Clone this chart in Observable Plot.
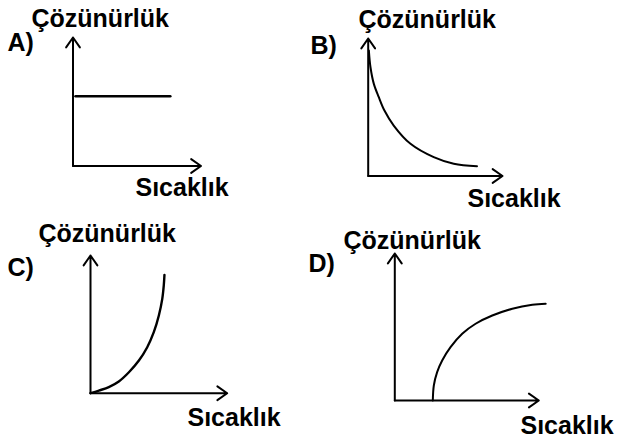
<!DOCTYPE html>
<html>
<head>
<meta charset="utf-8">
<script src="https://cdn.jsdelivr.net/npm/d3@7"></script>
<script src="https://cdn.jsdelivr.net/npm/@observablehq/plot@0.6"></script>
<style>
  html, body { margin: 0; padding: 0; background: #fff; }
  #root { position: relative; width: 619px; height: 445px; overflow: hidden; }
  #root > div { position: absolute; }
</style>
</head>
<body>
<div id="root"></div>
<script>
// ---- data (axis units: 0..1 along each drawn axis) ----
const panelLetters = ["A)", "B)", "C)", "D)"];
const yAxisTitle = "Çözünürlük";
const xAxisTitle = "Sıcaklık";

const curveA_x = [0.02, 0.76];
const curveA_y = [0.543, 0.543];

const curveB_x = [0.005, 0.017, 0.042, 0.079, 0.121, 0.19, 0.315, 0.488, 0.637, 0.81];
const curveB_y = [0.913, 0.791, 0.67, 0.573, 0.476, 0.367, 0.234, 0.137, 0.089, 0.071];

const curveC_x = [0, 0.061, 0.134, 0.207, 0.281, 0.354, 0.415, 0.463, 0.5, 0.525, 0.536, 0.541];
const curveC_y = [0, 0.019, 0.044, 0.085, 0.152, 0.237, 0.334, 0.443, 0.564, 0.685, 0.782, 0.859];

const curveD_x = [0.264, 0.271, 0.294, 0.329, 0.387, 0.468, 0.561, 0.677, 0.816, 0.955, 1.048];
const curveD_y = [0, 0.102, 0.193, 0.272, 0.363, 0.454, 0.522, 0.578, 0.624, 0.651, 0.658];

// ---- layout (page pixels) ----
const layout = [
  {box: [0, 0, 300, 210],   origin: [72.5, 165.5], size: [128, 128.5],
   letter: [7, 50], ytitle: [31, 26], xtitle: [135, 195], sw: 2.6},
  {box: [300, 0, 319, 215], origin: [367.7, 175.5], size: [134.3, 137.5],
   letter: [310, 53], ytitle: [358, 27], xtitle: [467, 206], sw: 2},
  {box: [0, 210, 300, 235], origin: [90, 392.7], size: [136.7, 137.7],
   letter: [7, 275], ytitle: [38, 241], xtitle: [187, 425], sw: 2.4},
  {box: [300, 215, 319, 230], origin: [394.3, 400], size: [144, 147],
   letter: [308, 271], ytitle: [343, 248], xtitle: [520, 433], sw: 2}
];
const curves = [
  [curveA_x, curveA_y], [curveB_x, curveB_y], [curveC_x, curveC_y], [curveD_x, curveD_y]
];

const FONT = "'Liberation Sans', Arial, sans-serif";
const root = document.getElementById("root");

layout.forEach((L, i) => {
  const [bx, by, bw, bh] = L.box;
  const [ox, oy] = L.origin;
  const [w, h] = L.size;
  const toData = ([px, py]) => ({x: (px - ox) / w, y: (oy - py) / h});
  const labels = [
    {...toData(L.letter), t: panelLetters[i]},
    {...toData(L.ytitle), t: yAxisTitle},
    {...toData(L.xtitle), t: xAxisTitle}
  ];
  const axes = [{x1: 0, y1: 0, x2: 1, y2: 0}, {x1: 0, y1: 0, x2: 0, y2: 1}];
  const [cx, cy] = curves[i];
  const pts = cx.map((v, k) => ({x: v, y: cy[k]}));
  const chart = Plot.plot({
    width: bw, height: bh,
    marginLeft: ox - bx,
    marginTop: (oy - h) - by,
    marginRight: bx + bw - (ox + w),
    marginBottom: by + bh - oy,
    x: {domain: [0, 1], axis: null},
    y: {domain: [0, 1], axis: null},
    style: {background: "transparent", overflow: "visible"},
    marks: [
      Plot.line(pts, {x: "x", y: "y", stroke: "black", strokeWidth: L.sw,
        curve: i === 0 ? "linear" : "catmull-rom"}),
      Plot.arrow(axes, {x1: "x1", y1: "y1", x2: "x2", y2: "y2",
        stroke: "black", strokeWidth: 2, headLength: 9, headAngle: 70}),
      Plot.text(labels, {x: "x", y: "y", text: "t", textAnchor: "start",
        lineAnchor: "bottom", fontSize: 25, fontWeight: "bold",
        fontFamily: FONT, fill: "black"})
    ]
  });
  const wrap = document.createElement("div");
  wrap.style.left = bx + "px";
  wrap.style.top = by + "px";
  wrap.appendChild(chart);
  root.appendChild(wrap);
});
</script>
</body>
</html>
